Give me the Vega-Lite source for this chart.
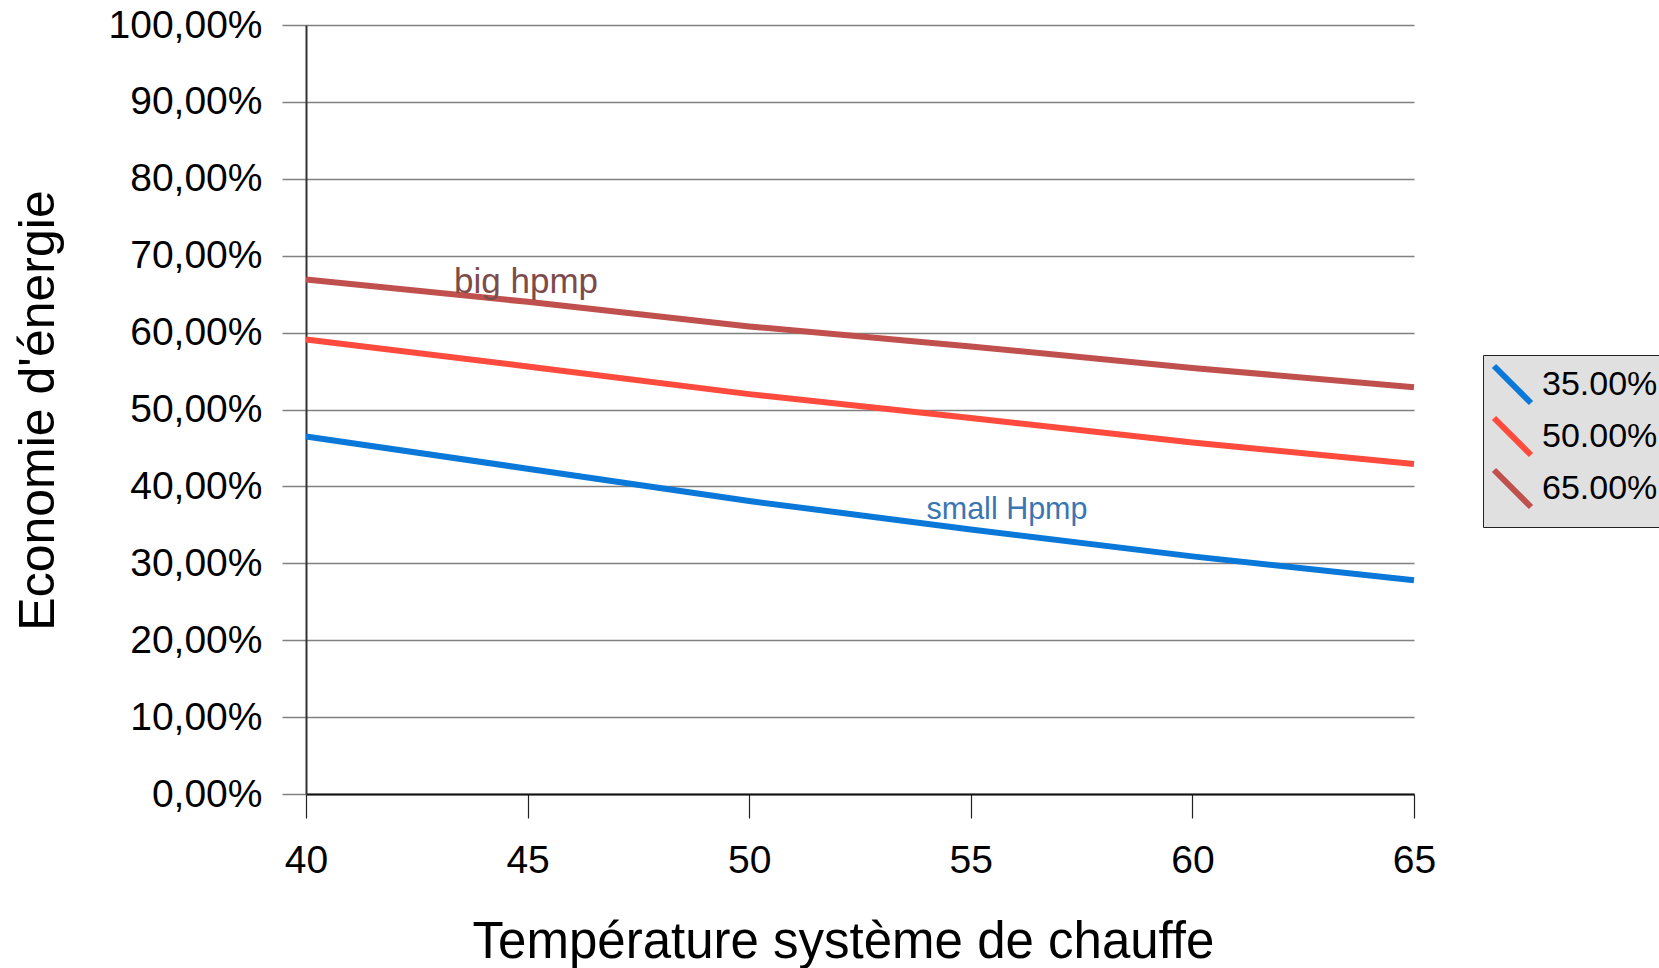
{
  "$schema": "https://vega.github.io/schema/vega-lite/v6.json",
  "autosize": {"type": "none"},
  "padding": {"left": 306, "top": 25, "right": 245, "bottom": 174},
  "width": 1108,
  "height": 769,
  "background": "white",
  "config": {
    "view": {"stroke": null},
    "font": "Liberation Sans"
  },
  "datasets": {
    "lines": [
      {"temp": 40, "serie": "35.00%", "eco": 0.465},
      {"temp": 45, "serie": "35.00%", "eco": 0.423},
      {"temp": 50, "serie": "35.00%", "eco": 0.381},
      {"temp": 55, "serie": "35.00%", "eco": 0.344},
      {"temp": 60, "serie": "35.00%", "eco": 0.309},
      {"temp": 65, "serie": "35.00%", "eco": 0.278},
      {"temp": 40, "serie": "50.00%", "eco": 0.591},
      {"temp": 45, "serie": "50.00%", "eco": 0.556},
      {"temp": 50, "serie": "50.00%", "eco": 0.520},
      {"temp": 55, "serie": "50.00%", "eco": 0.489},
      {"temp": 60, "serie": "50.00%", "eco": 0.457},
      {"temp": 65, "serie": "50.00%", "eco": 0.429},
      {"temp": 40, "serie": "65.00%", "eco": 0.669},
      {"temp": 45, "serie": "65.00%", "eco": 0.640},
      {"temp": 50, "serie": "65.00%", "eco": 0.608},
      {"temp": 55, "serie": "65.00%", "eco": 0.582},
      {"temp": 60, "serie": "65.00%", "eco": 0.554},
      {"temp": 65, "serie": "65.00%", "eco": 0.529}
    ],
    "notes": [
      {"temp": 43.34, "eco": 0.652, "label": "big hpmp"},
      {"temp": 54.0, "eco": 0.358, "label": "small Hpmp"}
    ]
  },
  "layer": [
    {
      "data": {"name": "lines"},
      "mark": {"type": "line", "strokeWidth": 6, "strokeCap": "butt"},
      "encoding": {
        "x": {
          "field": "temp", "type": "quantitative",
          "scale": {"domain": [40, 65], "nice": false, "zero": false},
          "axis": {
            "values": [40, 45, 50, 55, 60, 65],
            "title": "Température système de chauffe",
            "titleFontSize": 51, "titleFontWeight": "normal", "titleColor": "black",
            "titleBaseline": "alphabetic", "titleX": 537, "titleY": 163,
            "labelFontSize": 39, "labelColor": "black", "labelPadding": 23,
            "labelFlush": false, "labelOverlap": false,
            "tickSize": 24, "tickColor": "#222", "tickWidth": 1.2,
            "domainColor": "#111", "domainWidth": 2,
            "grid": false
          }
        },
        "y": {
          "field": "eco", "type": "quantitative",
          "scale": {"domain": [0, 1], "nice": false},
          "axis": {
            "values": [0, 0.1, 0.2, 0.3, 0.4, 0.5, 0.6, 0.7, 0.8, 0.9, 1],
            "labelExpr": "replace(format(datum.value, '.2%'), '.', ',')",
            "title": "Economie d'énergie",
            "titleFontSize": 50, "titleFontWeight": "normal", "titleColor": "black",
            "titleAngle": 270, "titleBaseline": "alphabetic", "titleX": -253, "titleY": 385,
            "labelFontSize": 39, "labelColor": "black", "labelPadding": 20,
            "labelFlush": false, "labelOverlap": false,
            "tickSize": 24, "tickColor": "#808080", "tickWidth": 1.5,
            "domainColor": "#333", "domainWidth": 2,
            "grid": true, "gridColor": "#808080", "gridWidth": 1.5
          }
        },
        "color": {
          "field": "serie", "type": "nominal",
          "scale": {"domain": ["35.00%", "50.00%", "65.00%"], "range": ["#0A78D8", "#FF4B3E", "#C0504D"]},
          "legend": {
            "title": null,
            "orient": "none",
            "legendX": 1177,
            "legendY": 330,
            "fillColor": "#E0E0E0",
            "strokeColor": "#222",
            "padding": 8,
            "symbolType": "M-1,-1L1,1",
            "symbolSize": 1369,
            "symbolStrokeWidth": 6,
            "labelFontSize": 34,
            "labelColor": "black",
            "labelOffset": 8,
            "rowPadding": -9,
            "labelLimit": 300
          }
        }
      }
    },
    {
      "data": {"name": "notes"},
      "transform": [{"filter": "datum.label === 'big hpmp'"}],
      "mark": {"type": "text", "align": "left", "baseline": "alphabetic", "fontSize": 35, "color": "#7E4B4B"},
      "encoding": {
        "x": {"field": "temp", "type": "quantitative"},
        "y": {"field": "eco", "type": "quantitative"},
        "text": {"field": "label"}
      }
    },
    {
      "data": {"name": "notes"},
      "transform": [{"filter": "datum.label === 'small Hpmp'"}],
      "mark": {"type": "text", "align": "left", "baseline": "alphabetic", "fontSize": 30.5, "color": "#3A76B2"},
      "encoding": {
        "x": {"field": "temp", "type": "quantitative"},
        "y": {"field": "eco", "type": "quantitative"},
        "text": {"field": "label"}
      }
    }
  ]
}
